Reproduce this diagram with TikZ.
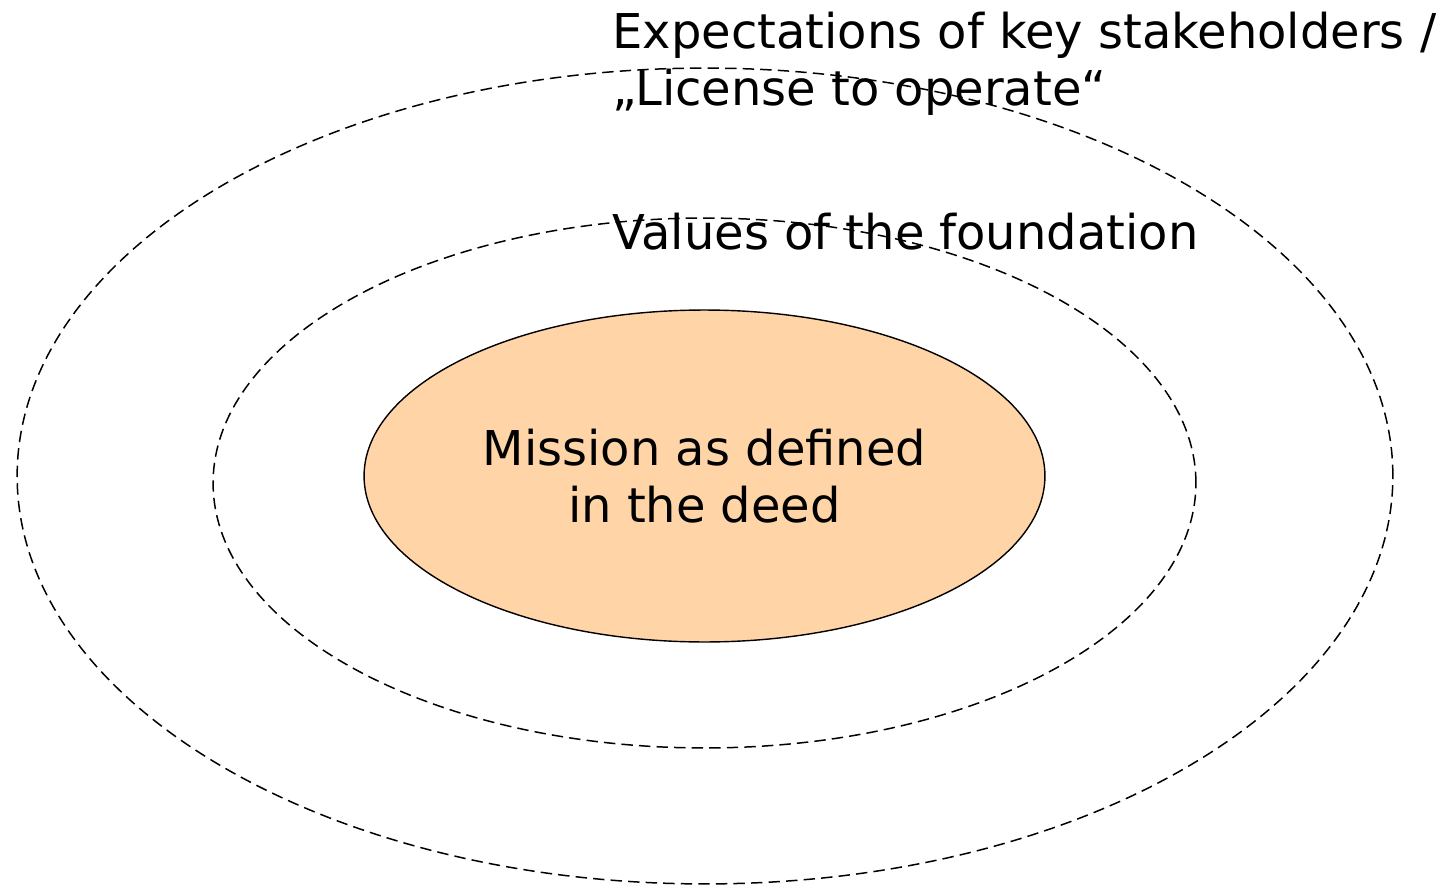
\documentclass[tikz,border=0pt]{standalone}
\usepackage{fontspec}
\setmainfont{DejaVu Sans}
\usetikzlibrary{shapes.geometric}

\definecolor{missionfill}{RGB}{255,213,168}

\begin{document}
\begin{tikzpicture}[x=0.02cm,y=-0.02cm,
    ring/.style={ellipse,draw,black,line width=0.85pt,dash pattern=on 6.5pt off 3.5pt,inner sep=0pt},
    label text/.style={font=\fontsize{27.3}{32.3}\selectfont,inner sep=0pt}]

    \useasboundingbox (0,0) rectangle (1449,885);

    % the three circles of the model
    \node[ring,minimum width=27.52cm,minimum height=16.32cm] (outer) at (705,476) {};
    \node[ring,minimum width=19.66cm,minimum height=10.6cm] (middle) at (704.5,483) {};
    \node[ellipse,draw,black,line width=0.8pt,fill=missionfill,inner sep=0pt,
          minimum width=13.62cm,minimum height=6.64cm,align=center,
          font=\fontsize{27.3}{32.3}\selectfont] (mission) at (704.5,476)
          {Mission as defined\\in the deed};

    % labels of the outer rings
    \node[label text,anchor=north west,align=left]
      (expect) at (612,12) {Expectations of key stakeholders /\\„License to operate“};
    \node[label text,anchor=north west] (values) at (612,213) {Values of the foundation};

\end{tikzpicture}
\end{document}
